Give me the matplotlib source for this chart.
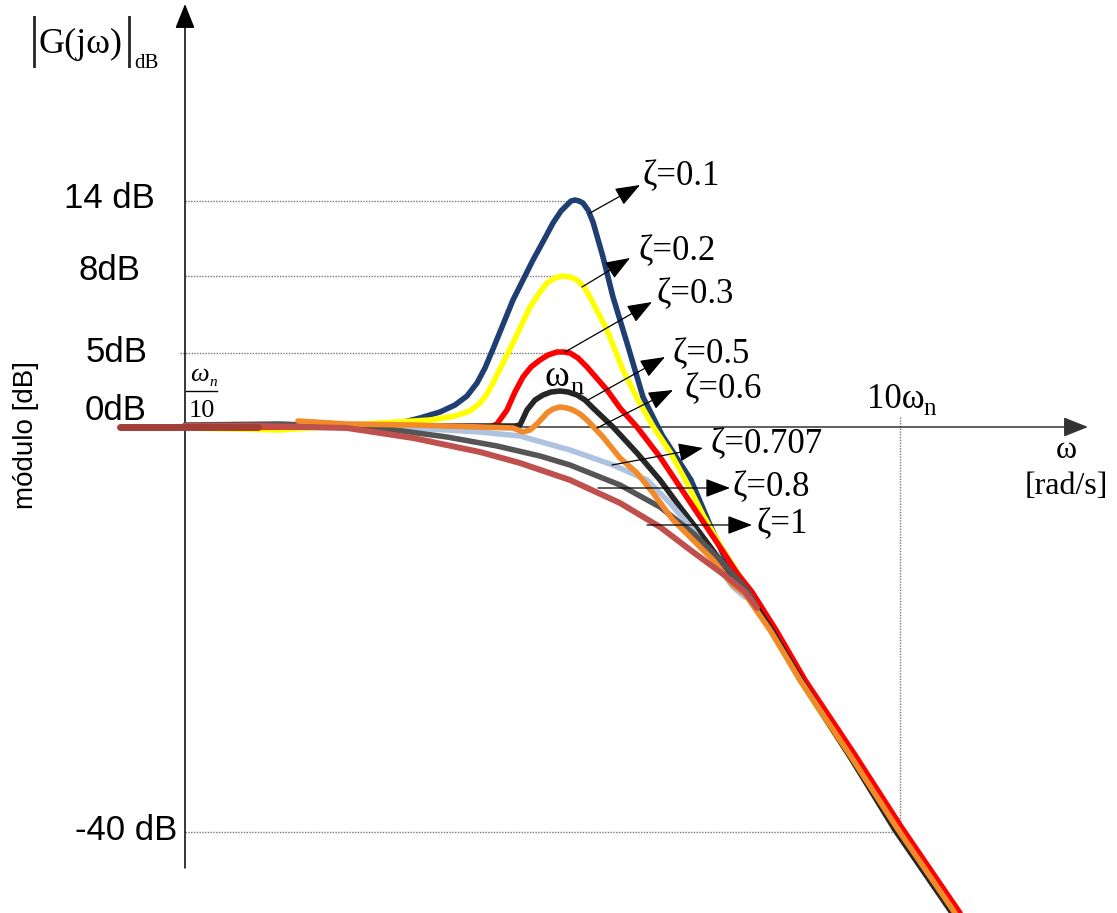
import matplotlib
matplotlib.use("Agg")
import matplotlib.pyplot as plt

# Drawing units: x to the right, y downward, 0 dB axis at y=427.
X_AXIS_Y = 427
Y_AXIS_X = 185

# second-order magnitude curves, one pair of lists per damping ratio
Z01_X = [185, 300, 380, 400, 420, 440, 455, 467, 477, 485, 493, 513, 533, 545, 553, 561, 567, 571, 575, 579, 583, 588, 593, 603, 613, 627, 643, 662, 691, 710, 728, 746, 771, 800, 849, 896, 953]
Z01_Y = [426, 427, 426, 423, 418, 412, 405, 396, 383, 368, 349, 300, 260, 238, 223, 211, 205, 201, 200, 201, 203, 210, 222, 257, 297, 343, 397, 435, 480, 525, 565, 592, 630, 680, 755, 828, 913]

Z02_X = [185, 280, 380, 430, 455, 470, 480, 487, 493, 513, 530, 540, 547, 555, 562, 570, 577, 584, 590, 607, 623, 638, 654, 670, 687, 703, 720, 737, 747, 771, 800, 849, 896, 953]
Z02_Y = [428, 430, 423, 420, 416, 411, 403, 394, 383, 343, 307, 292, 283, 278, 276, 277, 280, 287, 297, 330, 370, 400, 428, 452, 483, 515, 545, 572, 590, 630, 680, 755, 828, 913]

Z03_X = [185, 300, 490, 497, 507, 515, 523, 531, 540, 548, 557, 564, 570, 578, 587, 607, 620, 637, 660, 680, 700, 720, 737, 752, 776, 805, 855, 902, 960]
Z03_Y = [427, 427, 427, 424, 410, 392, 377, 367, 360, 355, 352, 352, 353, 358, 367, 390, 408, 427, 457, 487, 517, 547, 573, 592, 630, 680, 755, 828, 913]

Z05_X = [185, 300, 515, 520, 527, 535, 543, 551, 560, 568, 577, 585, 593, 613, 637, 660, 680, 700, 720, 740, 749, 773, 801, 849, 895, 952]
Z05_Y = [426, 426, 426, 425, 410, 400, 395, 392, 391, 392, 395, 400, 408, 427, 453, 480, 507, 533, 560, 587, 595, 632, 680, 755, 830, 913]

Z06_X = [298, 347, 413, 480, 513, 523, 530, 537, 547, 553, 560, 567, 573, 580, 587, 603, 620, 637, 653, 673, 693, 713, 733, 745, 770, 800, 850, 897, 955]
Z06_Y = [421, 424, 425, 427, 428, 432, 430, 424, 413, 409, 407, 408, 410, 414, 420, 437, 458, 473, 493, 520, 540, 560, 585, 594, 630, 680, 755, 828, 913]

Z0707_X = [185, 300, 413, 480, 520, 570, 613, 647, 670, 693, 713, 733, 745]
Z0707_Y = [426, 426, 428, 432, 436, 450, 465, 480, 503, 530, 560, 587, 597]

Z08_X = [185, 280, 380, 447, 497, 540, 570, 620, 660, 693, 720, 747, 757]
Z08_Y = [425, 424, 428, 437, 446, 456, 465, 485, 507, 533, 560, 590, 607]

Z1_X = [185, 258, 347, 413, 480, 520, 570, 620, 660, 693, 727, 745, 757]
Z1_Y = [426, 426, 428, 438, 452, 463, 480, 503, 527, 552, 577, 592, 608]

LOW_X = [120, 258]
LOW_Y = [427, 427]

# reference levels and their labels
LEVEL_LABELS = ["14 dB", "8dB", "5dB", "0dB", "-40 dB"]
LEVEL_LABEL_X = [155, 140, 147, 147, 177]
LEVEL_LABEL_Y = [198, 270, 352, 410, 830]
GRID_Y = [201, 276, 353, 832]
GRID_X0 = [185, 185, 180, 185]
GRID_X1 = [567, 553, 547, 900]
DECADE_X = 900

# zeta annotations: label text, label anchor, arrow tail (on curve), arrow tip
ZETA_TEXT = ["ζ=0.1", "ζ=0.2", "ζ=0.3", "ζ=0.5", "ζ=0.6", "ζ=0.707", "ζ=0.8", "ζ=1"]
ZETA_LX = [643, 638, 657, 672, 685, 710, 733, 757]
ZETA_LY = [177, 252, 295, 355, 390, 445, 488, 525]
ARROW_FROM = [(590, 213), (582, 287), (565, 352), (588, 400), (597, 428), (612, 465), (598, 488), (647, 525)]
ARROW_TO = [(640, 185), (630, 258), (652, 302), (665, 357), (673, 390), (703, 448), (730, 488), (752, 525)]

SANS = "Liberation Sans"
SERIF = "Liberation Serif"

fig = plt.figure(figsize=(11.17, 9.13), dpi=100)
ax = fig.add_axes([0, 0, 1, 1])
ax.set_xlim(0, 1117)
ax.set_ylim(913, 0)
ax.axis("off")

head = dict(arrowstyle="-|>,head_length=0.4,head_width=0.16", mutation_scale=38,
            color="black", lw=1.1, shrinkA=0, shrinkB=0)
ax.annotate("", xy=(Y_AXIS_X, 4), xytext=(Y_AXIS_X, 868), arrowprops=head, zorder=2)
ax.annotate("", xy=(1088, X_AXIS_Y), xytext=(Y_AXIS_X, X_AXIS_Y), arrowprops=dict(head, color="#333333"), zorder=2)

for gy, x0, x1 in zip(GRID_Y, GRID_X0, GRID_X1):
    ax.plot([x0, x1], [gy, gy], ls=(0, (1, 1)), lw=1.0, color="#777777", zorder=1)
ax.plot([DECADE_X, DECADE_X], [417, GRID_Y[-1]], ls=(0, (1, 1)), lw=1.0, color="#777777", zorder=1)

style = dict(lw=4.0, solid_capstyle="round", solid_joinstyle="round")
ax.plot(Z01_X, Z01_Y, color="#1f3f73", zorder=3, **style)
ax.plot(Z02_X, Z02_Y, color="#ffff00", zorder=4, **style)
ax.plot(Z03_X, Z03_Y, color="#ff0000", zorder=5, **style)
ax.plot(Z05_X, Z05_Y, color="#262626", zorder=6, **style)
ax.plot(Z0707_X, Z0707_Y, color="#aec3df", zorder=7, **style)
ax.plot(Z08_X, Z08_Y, color="#555555", zorder=8, **style)
ax.plot(Z06_X, Z06_Y, color="#f28a2a", zorder=9, **style)
ax.plot(Z1_X, Z1_Y, color="#c0504d", zorder=10, **dict(style, lw=4.3))
ax.plot(LOW_X, LOW_Y, color="#a33d38", zorder=11, **dict(style, lw=5.0))

for txt, lx, ly in zip(LEVEL_LABELS, LEVEL_LABEL_X, LEVEL_LABEL_Y):
    ax.text(lx, ly, txt, ha="right", va="center", fontsize=25, family=SANS)

for txt, lx, ly, a, b in zip(ZETA_TEXT, ZETA_LX, ZETA_LY, ARROW_FROM, ARROW_TO):
    ax.annotate("", xy=b, xytext=a,
                arrowprops=dict(arrowstyle="-|>,head_length=0.45,head_width=0.17", mutation_scale=34,
                                color="black", lw=0.9, shrinkA=0, shrinkB=0), zorder=12)
    ax.text(lx, ly, txt, ha="left", va="center", fontsize=25, family=SERIF)

# axis captions
ax.text(26, 435, "módulo [dB]", rotation=90, ha="center", va="center", fontsize=20, family=SANS)
ax.text(34, 42, "|", ha="center", va="center", fontsize=40, family=SERIF, color="#222222")
ax.text(39, 44, "G(jω)", ha="left", va="center", fontsize=26, family=SERIF)
ax.text(129, 42, "|", ha="center", va="center", fontsize=40, family=SERIF, color="#222222")
ax.text(134, 63, "dB", ha="left", va="center", fontsize=15, family=SERIF)

ax.text(199, 375, "ω", ha="center", va="center", fontsize=19, family=SERIF, style="italic")
ax.text(213, 383, "n", ha="center", va="center", fontsize=11, family=SERIF, style="italic")
ax.plot([186, 217], [391, 391], color="black", lw=1.0)
ax.text(202, 411, "10", ha="center", va="center", fontsize=19, family=SERIF)

ax.text(557, 377, "ω", ha="center", va="center", fontsize=27, family=SERIF)
ax.text(577, 388, "n", ha="center", va="center", fontsize=19, family=SERIF)

ax.text(867, 400, "10ω", ha="left", va="center", fontsize=25, family=SERIF)
ax.text(930, 409, "n", ha="center", va="center", fontsize=18, family=SERIF)

ax.text(1066, 450, "ω", ha="center", va="center", fontsize=23, family=SERIF)
ax.text(1066, 487, "[rad/s]", ha="center", va="center", fontsize=23, family=SERIF)

fig.savefig("out.png", dpi=100)
